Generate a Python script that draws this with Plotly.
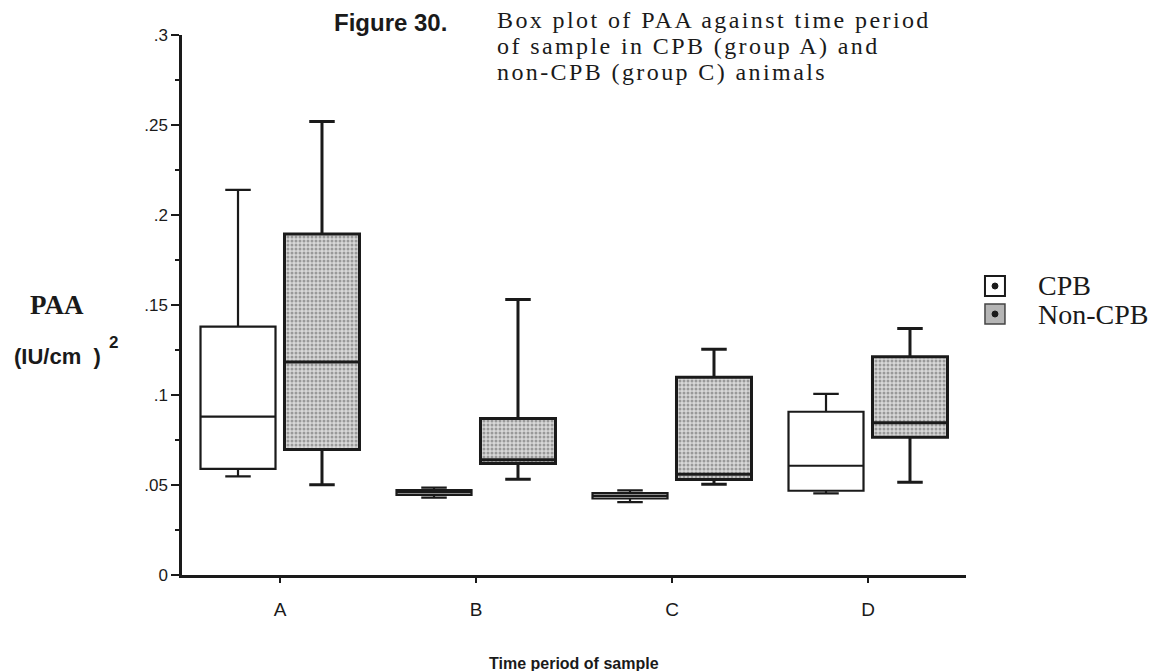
import plotly.graph_objects as go

periods = ["A", "B", "C", "D"]

cpb_lower = [0.0548, 0.0430, 0.0405, 0.0454]
cpb_q1 = [0.0590, 0.0445, 0.0425, 0.0468]
cpb_median = [0.0880, 0.0460, 0.0440, 0.0607]
cpb_q3 = [0.1380, 0.0472, 0.0455, 0.0907]
cpb_upper = [0.2140, 0.0485, 0.0470, 0.1006]

non_lower = [0.0502, 0.0532, 0.0504, 0.0515]
non_q1 = [0.0697, 0.0620, 0.0530, 0.0765]
non_median = [0.1184, 0.0640, 0.0560, 0.0846]
non_q3 = [0.1894, 0.0870, 0.1098, 0.1213]
non_upper = [0.2520, 0.1531, 0.1254, 0.1370]

y_tickvals = [0, 0.05, 0.1, 0.15, 0.2, 0.25, 0.3]
y_ticktext = ["0", ".05", ".1", ".15", ".2", ".25", ".3"]

title_lines = ["Box plot of PAA against time period",
               "of sample in CPB (group A) and",
               "non-CPB (group C) animals"]
legend_names = ["CPB", "Non-CPB"]

SERIF = "Liberation Serif"
SANS = "Liberation Sans"
INK = "#1a1a1a"

fig = go.Figure()

# stippled fill under the Non-CPB boxes
fig.add_trace(go.Bar(
    x=periods, base=non_q1, y=[q3 - q1 for q1, q3 in zip(non_q1, non_q3)],
    width=0.38, offset=0.024,
    marker=dict(color="#d0d0d0", line=dict(width=0),
                pattern=dict(shape=".", fgcolor="#5a5a5a", bgcolor="#d8d8d8",
                             size=4, solidity=0.45)),
    showlegend=False, hoverinfo="skip",
))

fig.add_trace(go.Box(
    name="CPB", x=periods, q1=cpb_q1, median=cpb_median, q3=cpb_q3,
    lowerfence=cpb_lower, upperfence=cpb_upper,
    offsetgroup="cpb", alignmentgroup="g",
    fillcolor="white", line=dict(color=INK, width=2.2), whiskerwidth=0.34,
    showlegend=False,
))
fig.add_trace(go.Box(
    name="Non-CPB", x=periods, q1=non_q1, median=non_median, q3=non_q3,
    lowerfence=non_lower, upperfence=non_upper,
    offsetgroup="non", alignmentgroup="g",
    fillcolor="rgba(0,0,0,0)", line=dict(color=INK, width=3), whiskerwidth=0.34,
    showlegend=False,
))

shapes = [
    # CPB legend key
    dict(type="rect", xref="paper", yref="paper", x0=1.0242, x1=1.0497, y0=0.5167, y1=0.5537,
         line=dict(color=INK, width=2), fillcolor="white"),
    dict(type="circle", xref="paper", yref="paper", x0=1.0332, x1=1.0408, y0=0.5296, y1=0.5407,
         line=dict(color=INK, width=1), fillcolor=INK),
    # Non-CPB legend key
    dict(type="rect", xref="paper", yref="paper", x0=1.0242, x1=1.0497, y0=0.4648, y1=0.5019,
         line=dict(color="#444", width=1.5), fillcolor="#b5b5b5"),
    dict(type="circle", xref="paper", yref="paper", x0=1.0332, x1=1.0408, y0=0.4778, y1=0.4889,
         line=dict(color=INK, width=1), fillcolor=INK),
]

annotations = [
    dict(text="<b>PAA</b>", xref="paper", yref="paper", x=-0.1594, y=0.5,
         xanchor="center", yanchor="middle", showarrow=False,
         font=dict(family=SERIF, size=27, color=INK)),
    dict(text="<b>(IU/cm&nbsp;&nbsp;)</b>", xref="paper", yref="paper", x=-0.2165, y=0.404,
         xanchor="left", yanchor="middle", showarrow=False,
         font=dict(family=SANS, size=22, color=INK)),
    dict(text="<b>2</b>", xref="paper", yref="paper", x=-0.0868, y=0.43,
         xanchor="center", yanchor="middle", showarrow=False,
         font=dict(family=SANS, size=17, color=INK)),
    dict(text="<b>Figure 30.</b>", xref="paper", yref="paper", x=0.1913, y=1.024,
         xanchor="left", yanchor="middle", showarrow=False,
         font=dict(family=SANS, size=24, color=INK)),
    dict(text="<b>Time period of sample</b>", xref="paper", yref="paper", x=0.5, y=-0.163,
         xanchor="center", yanchor="middle", showarrow=False,
         font=dict(family=SANS, size=16, color=INK)),
]
for line, yy in zip(title_lines, [1.0287, 0.9796, 0.9306]):
    annotations.append(dict(text='<span style="letter-spacing:2.4px">' + line + "</span>",
                            xref="paper", yref="paper", x=0.4005, y=yy,
                            xanchor="left", yanchor="middle", showarrow=False, borderpad=0,
                            font=dict(family=SERIF, size=24, color=INK)))
for name, yy in zip(legend_names, [0.5352, 0.4833]):
    annotations.append(dict(text=name, xref="paper", yref="paper", x=1.0906, y=yy,
                            xanchor="left", yanchor="middle", showarrow=False, borderpad=0,
                            font=dict(family=SERIF, size=28, color=INK)))

fig.update_layout(
    width=1167, height=671,
    margin=dict(l=182, r=201, t=35, b=96),
    paper_bgcolor="white", plot_bgcolor="white",
    boxmode="group", boxgap=0.143, boxgroupgap=0.107,
    barmode="overlay",
    font=dict(family=SANS, size=15, color=INK),
    showlegend=False,
    xaxis=dict(
        type="category", categoryorder="array", categoryarray=periods,
        range=[-0.5, 3.5],
        showline=True, linecolor=INK, linewidth=2.5,
        ticks="outside", ticklen=5, tickwidth=2, tickcolor=INK,
        ticklabelstandoff=10,
        showgrid=False, zeroline=False,
        tickfont=dict(family=SANS, size=19, color=INK),
    ),
    yaxis=dict(
        range=[0, 0.3], tickvals=y_tickvals, ticktext=y_ticktext,
        showline=True, linecolor=INK, linewidth=2.5,
        ticks="outside", ticklen=8, tickwidth=2, tickcolor=INK,
        minor=dict(dtick=0.025, ticks="outside", ticklen=4, tickwidth=2,
                   tickcolor=INK, showgrid=False),
        showgrid=False, zeroline=False,
        tickfont=dict(family=SANS, size=17, color=INK),
    ),
    shapes=shapes,
    annotations=annotations,
)

fig.write_html("out.html")
